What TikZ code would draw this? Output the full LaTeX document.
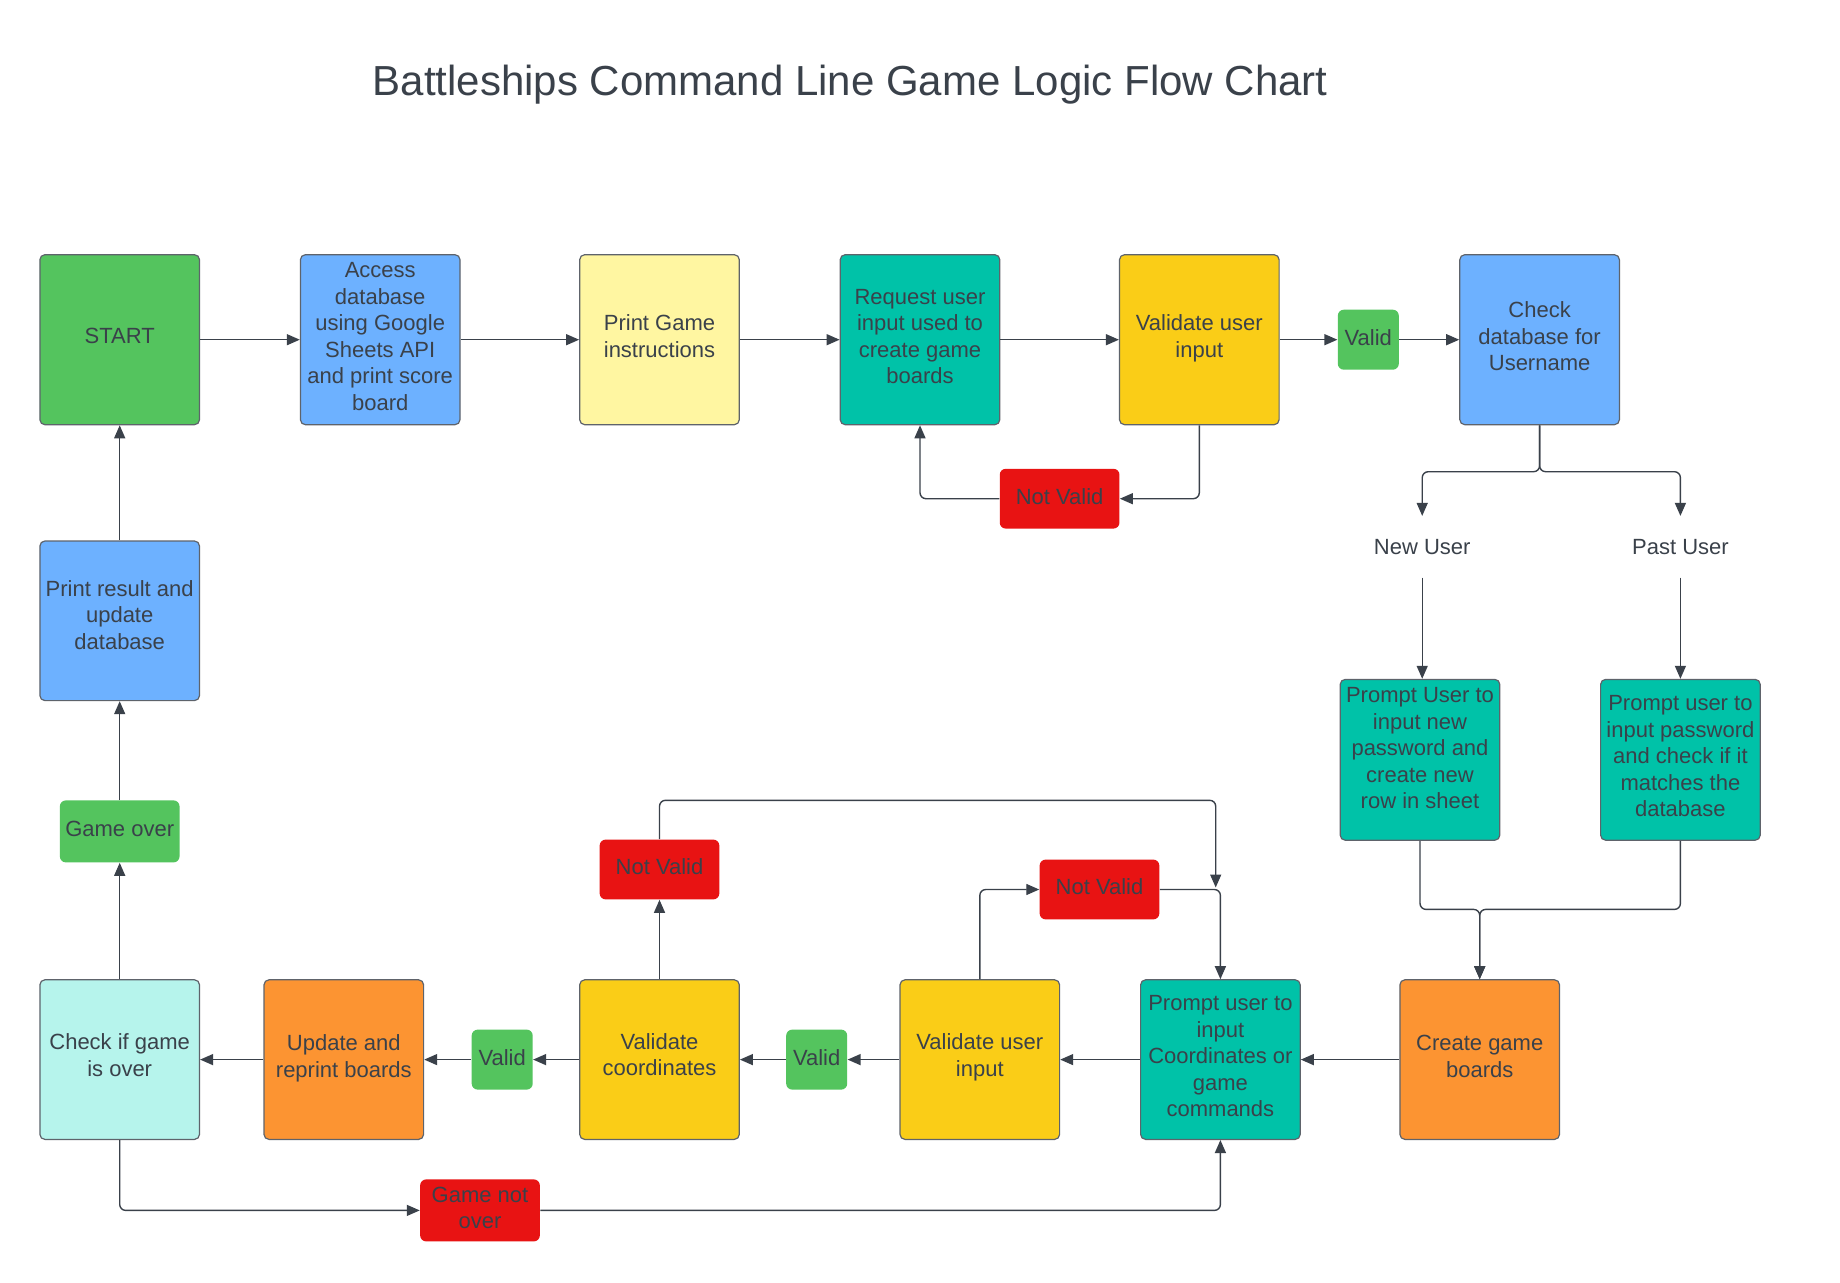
\documentclass[tikz,border=0pt]{standalone}
\usepackage{fontspec}
\setmainfont{Liberation Sans}
\usetikzlibrary{arrows.meta}
\definecolor{txt}{HTML}{3A414A}
\definecolor{linec}{HTML}{3A414A}
\definecolor{bord}{HTML}{5E636B}
\definecolor{cgreen}{HTML}{54C45E}
\definecolor{cblue}{HTML}{6DB1FF}
\definecolor{cly}{HTML}{FFF6A1}
\definecolor{cteal}{HTML}{00C2A8}
\definecolor{cgold}{HTML}{FACD17}
\definecolor{cred}{HTML}{E81313}
\definecolor{corange}{HTML}{FC9432}
\definecolor{ccyan}{HTML}{B6F4EC}
\tikzset{
  sd/.style={execute at end node={\rule[-#1]{0pt}{0pt}}},
  sd/.default=3.5pt,
  nosd/.style={execute at end node={}},
  box/.style={draw=bord, line width=0.6pt, rounded corners=2.5pt, minimum width=79.8pt,
    minimum height=79.8pt, align=center, text=txt, inner sep=2pt,
    font=\fontsize{11}{13.25}\selectfont, sd},
  tall/.style={box, minimum height=85pt},
  tag/.style={rounded corners=3pt, align=center, text=txt, inner sep=1pt,
    font=\fontsize{11}{13.25}\selectfont, sd=2.5pt},
  vtag/.style={tag, fill=cgreen, minimum width=30.5pt, minimum height=30pt},
  nvtag/.style={tag, fill=cred, minimum width=59.85pt, minimum height=29.9pt},
  lbl/.style={align=center, text=txt, inner sep=0pt, minimum height=30.5pt,
    font=\fontsize{11}{13.25}\selectfont},
  conn/.style={draw=linec, line width=0.7pt, rounded corners=3pt,
    -{Triangle[length=6.5pt,width=5.5pt]}}
}
\begin{document}
\begin{tikzpicture}[x=0.5pt,y=-0.5pt]
\fill[white] (0,0) rectangle (1840,1283);
\useasboundingbox (0,0) rectangle (1840,1283);

\node[text=txt, font=\fontsize{21}{25}\selectfont] (title) at (850.2,84.5)
  {Battleships Command Line Game Logic Flow Chart};

% top row
\node[tall, fill=cgreen] (start) at (119.7,339.7) {START};
\node[tall, fill=cblue, sd=2pt] (acc) at (380.2,339.7) {Access\\database\\using Google\\Sheets API\\and print score\\board};
\node[tall, fill=cly, nosd] (pgi) at (659.5,339.7) {Print Game\\instructions};
\node[tall, fill=cteal] (req) at (920,339.7) {Request user\\input used to\\create game\\boards};
\node[tall, fill=cgold, nosd] (vtop) at (1199.3,339.7) {Validate user\\input};
\node[vtag] (validt) at (1368.3,339.7) {Valid};
\node[tall, fill=cblue] (chk) at (1539.6,339.7) {Check\\database for\\Username};
\node[nvtag] (nvt) at (1059.6,498.7) {Not Valid};

% user branch
\node[lbl] (nu) at (1422.2,546.8) {New User};
\node[lbl] (pu) at (1680.4,546.8) {Past User};
\node[box, fill=cteal, minimum height=80.4pt, sd=11.7pt] (pn) at (1420,759.8) {Prompt User to\\input new\\password and\\create new\\row in sheet};
\node[box, fill=cteal, minimum height=80.4pt] (pp) at (1680.4,759.8) {Prompt user to\\input password\\and check if it\\matches the\\database};

% bottom row
\node[box, fill=corange] (cg) at (1479.7,1059.6) {Create game\\boards};
\node[box, fill=cteal] (pc) at (1220.4,1059.6) {Prompt user to\\input\\Coordinates or\\game\\commands};
\node[box, fill=cgold, sd=4.5pt] (vbot) at (979.8,1059.6) {Validate user\\input};
\node[vtag] (validb1) at (816.7,1059.6) {Valid};
\node[box, fill=cgold, sd=5pt] (vco) at (659.5,1059.6) {Validate\\coordinates};
\node[vtag] (validb2) at (502.2,1059.6) {Valid};
\node[box, fill=corange] (upd) at (343.8,1059.6) {Update and\\reprint boards};
\node[box, fill=ccyan, sd=4.5pt] (cgo) at (119.7,1059.6) {Check if game\\is over};
\node[tag, fill=cgreen, minimum width=59.85pt, minimum height=31pt] (gov) at (119.7,831.4) {Game over};
\node[box, fill=cblue, sd=5.9pt] (prr) at (119.7,620.8) {Print result and\\update\\database};
\node[nvtag] (nvl) at (659.5,869.5) {Not Valid};
\node[nvtag] (nvr) at (1099.5,889.5) {Not Valid};
\node[tag, fill=cred, minimum width=59.85pt, minimum height=31pt] (gno) at (480,1210.4) {Game not\\over};

% helper coordinates
\coordinate (br) at (1539.6,471.7);
\coordinate (mrg) at (1479.7,909.4);
\coordinate (lpt) at (1215.7,800.3);
\coordinate (lp) at (1215.7,887.5);

% top row connectors
\draw[conn] (start.east) -- (acc.west);
\draw[conn] (acc.east) -- (pgi.west);
\draw[conn] (pgi.east) -- (req.west);
\draw[conn] (req.east) -- (vtop.west);
\draw[conn] (vtop.east) -- (validt.west);
\draw[conn] (validt.east) -- (chk.west);
\draw[conn] (vtop.south) |- (nvt.east);
\draw[conn] (nvt.west) -| (req.south);

% branch
\draw[conn] (chk.south) -- (br) -| (nu.north);
\draw[conn] (chk.south) -- (br) -| (pu.north);
\draw[conn] (nu.south) -- (nu.south |- pn.north);
\draw[conn] (pu.south) -- (pu.south |- pp.north);
\draw[conn] (pn.south) |- (mrg) -- (cg.north);
\draw[conn] (pp.south) |- (mrg) -- (cg.north);

% bottom row
\draw[conn] (cg.west) -- (pc.east);
\draw[conn] (pc.west) -- (vbot.east);
\draw[conn] (vbot.west) -- (validb1.east);
\draw[conn] (validb1.west) -- (vco.east);
\draw[conn] (vco.west) -- (validb2.east);
\draw[conn] (validb2.west) -- (upd.east);
\draw[conn] (upd.west) -- (cgo.east);
\draw[conn] (cgo.north) -- (gov.south);
\draw[conn] (gov.north) -- (prr.south);
\draw[conn] (prr.north) -- (start.south);
\draw[conn] (cgo.south) |- (gno.west);
\draw[conn] (gno.east) -| (pc.south);
\draw[conn] (vbot.north) |- (nvr.west);
\draw[conn] (nvr.east) -| (pc.north);
\draw[conn] (vco.north) -- (nvl.south);
\draw[conn] (nvl.north) |- (lpt) -- (lp);
\end{tikzpicture}
\end{document}
